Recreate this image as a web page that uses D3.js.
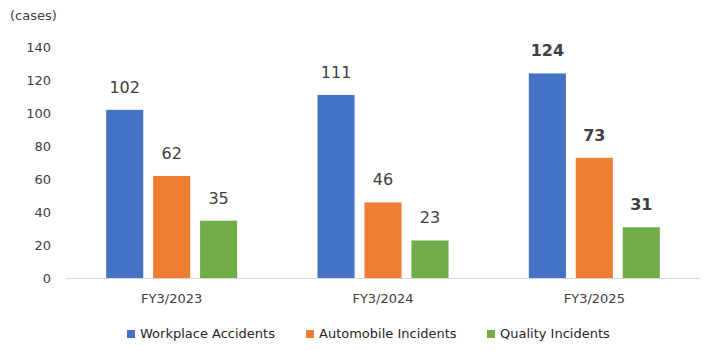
<!DOCTYPE html>
<html>
<head>
<meta charset="utf-8">
<script src="https://cdn.jsdelivr.net/npm/d3@7"></script>
<style>
  body { margin: 0; background: #fff; }
  svg text { font-family: "DejaVu Sans", Verdana, sans-serif; fill: #595959; }
</style>
</head>
<body>
<div id="chart"></div>
<script>
var categories = ["FY3/2023", "FY3/2024", "FY3/2025"];
var seriesNames = ["Workplace Accidents", "Automobile Incidents", "Quality Incidents"];
var workplace = [102, 111, 124];
var automobile = [62, 46, 73];
var quality = [35, 23, 31];
var yTicks = [0, 20, 40, 60, 80, 100, 120, 140];
var colors = ["#4472c4", "#ed7d31", "#70ad47"];

var series = [workplace, automobile, quality];

var width = 707, height = 351;
var margin = { top: 47, right: 7, bottom: 73, left: 66 };
var innerW = width - margin.left - margin.right;
var innerH = height - margin.top - margin.bottom;

var svg = d3.select("#chart").append("svg")
    .attr("width", width)
    .attr("height", height);

var g = svg.append("g")
    .attr("transform", "translate(" + margin.left + "," + margin.top + ")");

var x0 = d3.scaleBand().domain(categories).range([0, innerW]);
var x1 = d3.scaleBand().domain(seriesNames).range([0, 131]).paddingInner(0.21);
var y = d3.scaleLinear().domain([0, 140]).range([innerH + 0.5, 0]);

// y tick labels
g.selectAll(".ytick")
    .data(yTicks)
    .enter().append("text")
    .attr("class", "ytick")
    .attr("x", -15)
    .attr("y", function(d) { return y(d); })
    .attr("dy", "0.35em")
    .attr("text-anchor", "end")
    .style("font-size", "13px")
    .style("fill", "#404040")
    .text(function(d) { return d; });

svg.append("text")
    .attr("x", 10)
    .attr("y", 20)
    .style("font-size", "13px")
    .style("fill", "#404040")
    .text("(cases)");

// bars
var groups = g.selectAll(".grp")
    .data(categories)
    .enter().append("g")
    .attr("class", "grp")
    .attr("transform", function(d) {
        return "translate(" + (x0(d) + x0.bandwidth() / 2 - 65.5) + ",0)";
    });

function rows(c, ci) {
    return seriesNames.map(function(s, si) { return { s: s, si: si, ci: ci, v: series[si][ci] }; });
}

groups.selectAll("rect")
    .data(rows)
    .enter().append("rect")
    .attr("x", function(d) { return x1(d.s); })
    .attr("width", x1.bandwidth())
    .attr("y", function(d) { return y(d.v); })
    .attr("height", function(d) { return y(0) - y(d.v); })
    .attr("fill", function(d) { return colors[d.si]; });

groups.selectAll(".val")
    .data(rows)
    .enter().append("text")
    .attr("class", "val")
    .attr("x", function(d) { return x1(d.s) + x1.bandwidth() / 2; })
    .attr("y", function(d) { return y(d.v) - 17; })
    .attr("text-anchor", "middle")
    .style("font-size", "16px")
    .style("font-weight", function(d) { return d.ci === 2 ? "bold" : "normal"; })
    .style("fill", "#404040")
    .text(function(d) { return d.v; });

// baseline
g.append("line")
    .attr("x1", 0).attr("x2", innerW)
    .attr("y1", y(0)).attr("y2", y(0))
    .attr("stroke", "#d9d9d9")
    .attr("stroke-width", 1);

// category labels
g.selectAll(".xlab")
    .data(categories)
    .enter().append("text")
    .attr("class", "xlab")
    .attr("x", function(d) { return x0(d) + x0.bandwidth() / 2; })
    .attr("y", y(0) + 24)
    .attr("text-anchor", "middle")
    .style("font-size", "13px")
    .style("fill", "#404040")
    .text(function(d) { return d; });

// legend
var legendX = [127, 306, 487];
var legend = svg.selectAll(".leg")
    .data(seriesNames)
    .enter().append("g")
    .attr("class", "leg")
    .attr("transform", function(d, i) { return "translate(" + legendX[i] + ",330)"; });

legend.append("rect")
    .attr("width", 8).attr("height", 8)
    .attr("fill", function(d, i) { return colors[i]; });

legend.append("text")
    .attr("x", 13)
    .attr("y", 3)
    .attr("dy", "0.35em")
    .style("font-size", "13px")
    .style("fill", "#262626")
    .text(function(d) { return d; });
</script>
</body>
</html>
